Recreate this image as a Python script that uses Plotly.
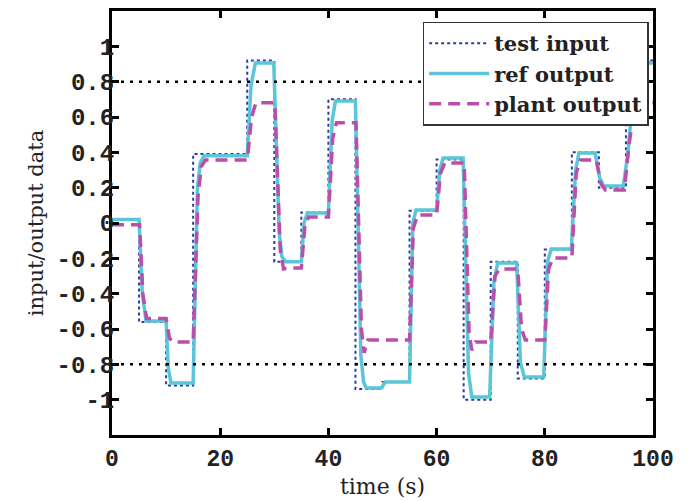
import plotly.graph_objects as go

# ---- data ----
step_times = [0, 5, 10, 15, 20, 25, 30, 35, 40, 45, 50, 55, 60, 65, 70, 75, 80, 85, 90, 95, 100]
test_input = [0.02, -0.56, -0.92, 0.39, 0.39, 0.92, -0.22, 0.06, 0.70, -0.94, -0.90, 0.07,
              0.36, -1.0, -0.22, -0.88, -0.15, 0.40, 0.20, 0.92, 0.92]

ref_time = [0, 5.0, 5.6, 6.3, 10, 10.4, 10.9, 15, 15.8, 16.3, 17, 25, 25.7, 26.5, 29.9, 30.9,
            31.4, 32.1, 35, 35.5, 36.1, 40, 40.7, 41.3, 45, 46.0, 46.5, 47, 49.8, 50.5, 55,
            55.6, 56.2, 60, 60.6, 61.2, 64.9, 65.9, 66.5, 69.8, 70.6, 71.3, 74.8, 75.5, 76.2,
            79.8, 80.5, 81.2, 84.9, 85.7, 86.3, 89.3, 90.2, 90.9, 94.5, 95.4, 96.5, 97.3, 100]
ref_output = [0.02, 0.02, -0.40, -0.555, -0.555, -0.82, -0.905, -0.905, 0.20, 0.34, 0.38, 0.38,
              0.78, 0.905, 0.905, -0.05, -0.19, -0.22, -0.22, 0.0, 0.057, 0.057, 0.58, 0.69,
              0.69, -0.75, -0.90, -0.934, -0.934, -0.90, -0.90, 0.0, 0.074, 0.074, 0.30, 0.368,
              0.368, -0.85, -0.985, -0.985, -0.33, -0.226, -0.226, -0.79, -0.871, -0.871, -0.22,
              -0.147, -0.147, 0.30, 0.396, 0.396, 0.25, 0.21, 0.21, 0.40, 0.82, 0.905, 0.905]

plant_time = [0, 5.1, 5.7, 6.4, 10, 10.6, 11.2, 15, 15.9, 16.5, 17.3, 25, 25.8, 26.6, 30.1,
              31.1, 31.7, 32.4, 35, 35.7, 36.4, 40, 40.8, 41.5, 45.1, 46.1, 46.6, 47.3, 55,
              55.7, 56.5, 60, 60.7, 61.5, 65.1, 66.0, 66.5, 67.2, 70, 70.8, 71.6, 75, 75.7,
              76.4, 80, 80.7, 81.5, 85, 85.8, 86.6, 89.5, 90.4, 91.2, 94.7, 95.6, 96.6, 97.5, 100]
plant_output = [-0.01, -0.01, -0.40, -0.54, -0.54, -0.65, -0.673, -0.673, 0.15, 0.32, 0.357,
                0.357, 0.60, 0.68, 0.68, -0.15, -0.26, -0.255, -0.255, 0.0, 0.034, 0.034, 0.48,
                0.568, 0.568, -0.60, -0.735, -0.662, -0.662, -0.03, 0.045, 0.045, 0.28, 0.34,
                0.34, -0.62, -0.72, -0.673, -0.673, -0.30, -0.26, -0.26, -0.60, -0.662, -0.662,
                -0.26, -0.198, -0.198, 0.28, 0.357, 0.357, 0.22, 0.187, 0.187, 0.45, 0.66, 0.68, 0.68]

limit_x = [0, 100]
limit_levels = [0.8, -0.8]

x_tick_vals = [0, 20, 40, 60, 80, 100]
x_tick_text = ["0", "20", "40", "60", "80", "100"]
y_tick_vals = [-1, -0.8, -0.6, -0.4, -0.2, 0, 0.2, 0.4, 0.6, 0.8, 1]
y_tick_text = ["-1", "-0.8", "-0.6", "-0.4", "-0.2", "0", "0.2", "0.4", "0.6", "0.8", "1"]

fig = go.Figure()
fig.add_trace(go.Scatter(x=step_times, y=test_input, mode="lines", name="test input",
                         line=dict(color="#2a3c9e", width=2, dash="dot", shape="hv")))
fig.add_trace(go.Scatter(x=ref_time, y=ref_output, mode="lines", name="ref output",
                         line=dict(color="#5ac6d8", width=3.5)))
fig.add_trace(go.Scatter(x=plant_time, y=plant_output, mode="lines", name="plant output",
                         line=dict(color="#bb4ea9", width=3.5, dash="12px,7px")))
for lv in limit_levels:
    fig.add_trace(go.Scatter(x=limit_x, y=[lv, lv], mode="lines", showlegend=False,
                             hoverinfo="skip",
                             line=dict(color="black", width=2.5, dash="3px,6px")))

axis_common = dict(showline=True, linecolor="black", linewidth=3, mirror="ticks",
                   ticks="inside", ticklen=7, tickwidth=3, tickcolor="black",
                   showgrid=False, zeroline=False, automargin=False)

# the page body adds an 8px offset at top/left, so the figure is sized 8px smaller
fig.update_layout(
    width=687, height=493,
    margin=dict(l=104, r=42, t=3, b=66, autoexpand=False),
    paper_bgcolor="white", plot_bgcolor="white",
    showlegend=True,
    legend=dict(x=0.992, y=0.975, xanchor="right", yanchor="top",
                bgcolor="white", bordercolor="#333", borderwidth=1.5,
                font=dict(family="DejaVu Serif", size=21, color="#222", weight="bold"),
                itemwidth=60, tracegroupgap=0),
    xaxis=dict(range=[0, 100], tickvals=x_tick_vals, ticktext=x_tick_text,
               tickfont=dict(family="Liberation Mono", size=23, color="#222", weight="bold"),
               title=dict(text="time (s)", font=dict(family="DejaVu Serif", size=22, color="#222"),
                          standoff=8),
               **axis_common),
    yaxis=dict(range=[-1.2, 1.2], tickvals=y_tick_vals, ticktext=y_tick_text,
               tickfont=dict(family="Liberation Mono", size=24, color="#222", weight="bold"),
               ticklabelstandoff=-10,
               title=dict(text="input/output data", font=dict(family="DejaVu Serif", size=21, color="#222"),
                          standoff=8),
               **axis_common),
)

fig.write_html("out.html")
